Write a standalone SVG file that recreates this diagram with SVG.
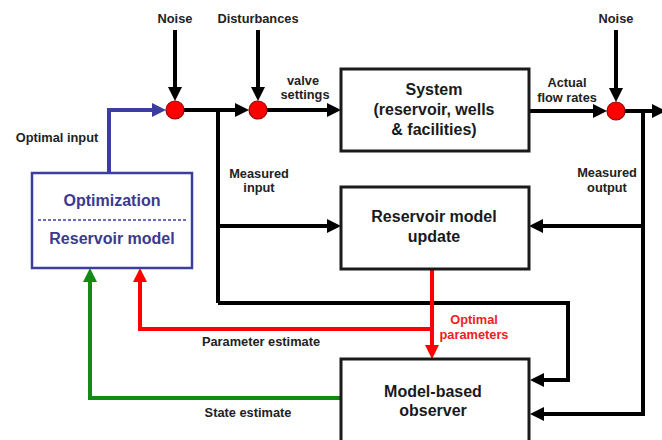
<svg xmlns="http://www.w3.org/2000/svg" width="662" height="440" viewBox="0 0 662 440">
<style>
text{font-family:"Liberation Sans",Arial,sans-serif;font-weight:bold;text-anchor:middle}
.lbl{font-size:12.8px;fill:#222}
.box{fill:#fff;stroke:#1a1a1a;stroke-width:3}
.bt{font-size:16px;fill:#1a1a1a}
.bl{font-size:16px;fill:#3a3a8e}
.c{fill:none;stroke-width:4;stroke-linejoin:miter}
.k{stroke:#000}
.r{stroke:#f00}
.g{stroke:#138a13}
.b{stroke:#3d3da0}
.sum{fill:#f00;stroke:#900;stroke-width:1.2}
</style>
<defs>
<marker id="ak" viewBox="0 0 14 14" markerWidth="14" markerHeight="14" markerUnits="userSpaceOnUse" refX="4" refY="7" orient="auto"><path d="M0,0L14,7L0,14z" fill="#000"/></marker>
<marker id="ar" viewBox="0 0 14 14" markerWidth="14" markerHeight="14" markerUnits="userSpaceOnUse" refX="4" refY="7" orient="auto"><path d="M0,0L14,7L0,14z" fill="#f00"/></marker>
<marker id="ag" viewBox="0 0 14 14" markerWidth="14" markerHeight="14" markerUnits="userSpaceOnUse" refX="4" refY="7" orient="auto"><path d="M0,0L14,7L0,14z" fill="#138a13"/></marker>
<marker id="ab" viewBox="0 0 14 14" markerWidth="14" markerHeight="14" markerUnits="userSpaceOnUse" refX="4" refY="7" orient="auto"><path d="M0,0L14,7L0,14z" fill="#3d3da0"/></marker>
</defs>
<rect width="662" height="440" fill="#fff"/>

<g id="connectors">
<path class="c k" d="M175,30V91" marker-end="url(#ak)"/>
<path class="c k" d="M258,30V91" marker-end="url(#ak)"/>
<path class="c k" d="M616,30V92" marker-end="url(#ak)"/>
<path class="c k" d="M184,110H239" marker-end="url(#ak)"/>
<path class="c k" d="M267,110H331" marker-end="url(#ak)"/>
<path class="c k" d="M529,111H597" marker-end="url(#ak)"/>
<path class="c k" d="M625,111H656" marker-end="url(#ak)"/>
<path class="c k" d="M218,110V303"/>
<path class="c k" d="M218,226H331" marker-end="url(#ak)"/>
<path class="c k" d="M218,303H568V380H540" marker-end="url(#ak)"/>
<path class="c k" d="M643,111V414H540" marker-end="url(#ak)"/>
<path class="c k" d="M643,226H539" marker-end="url(#ak)"/>
<path class="c r" d="M432,269V349" marker-end="url(#ar)"/>
<path class="c r" d="M432,329H140V278" marker-end="url(#ar)"/>
<path class="c g" d="M341,398H90V278" marker-end="url(#ag)"/>
<path class="c b" d="M109,173V110H156" marker-end="url(#ab)"/>
</g>

<g id="sum1"><circle class="sum" cx="175" cy="110" r="9"/></g>
<g id="sum2"><circle class="sum" cx="258" cy="110" r="9"/></g>
<g id="sum3"><circle class="sum" cx="616" cy="111" r="9"/></g>

<g id="system">
<rect class="box" x="341" y="69" width="188" height="82"/>
<text class="bt" x="434" y="95">System</text>
<text class="bt" x="434" y="115">(reservoir, wells</text>
<text class="bt" x="434" y="135">&amp; facilities)</text>
</g>

<g id="update">
<rect class="box" x="341" y="187" width="188" height="82"/>
<text class="bt" x="434" y="222">Reservoir model</text>
<text class="bt" x="434" y="242">update</text>
</g>

<g id="observer">
<rect class="box" x="341" y="359" width="188" height="84"/>
<text class="bt" x="433" y="397">Model-based</text>
<text class="bt" x="433" y="416">observer</text>
</g>

<g id="optimization">
<rect x="32" y="173" width="160" height="95" fill="#fff" stroke="#3d3da0" stroke-width="2.5"/>
<line x1="38" y1="220" x2="188" y2="220" stroke="#3d3da0" stroke-width="1.5" stroke-dasharray="3,2"/>
<text class="bl" x="112" y="206">Optimization</text>
<text class="bl" x="112" y="244">Reservoir model</text>
</g>

<g id="labels">
<text class="lbl" x="175" y="23">Noise</text>
<text class="lbl" x="258" y="23">Disturbances</text>
<text class="lbl" x="616" y="23">Noise</text>
<text class="lbl" x="303" y="85">valve</text>
<text class="lbl" x="305" y="99">settings</text>
<text class="lbl" x="567" y="87">Actual</text>
<text class="lbl" x="567" y="102">flow rates</text>
<text class="lbl" x="57" y="142">Optimal input</text>
<text class="lbl" x="259" y="178">Measured</text>
<text class="lbl" x="259" y="192">input</text>
<text class="lbl" x="607" y="177">Measured</text>
<text class="lbl" x="607" y="192">output</text>
<text class="lbl" x="474" y="324" fill="#f00" style="fill:#f02020">Optimal</text>
<text class="lbl" x="474" y="339" style="fill:#f02020">parameters</text>
<text class="lbl" x="261" y="346">Parameter estimate</text>
<text class="lbl" x="248" y="417">State estimate</text>
</g>
</svg>
